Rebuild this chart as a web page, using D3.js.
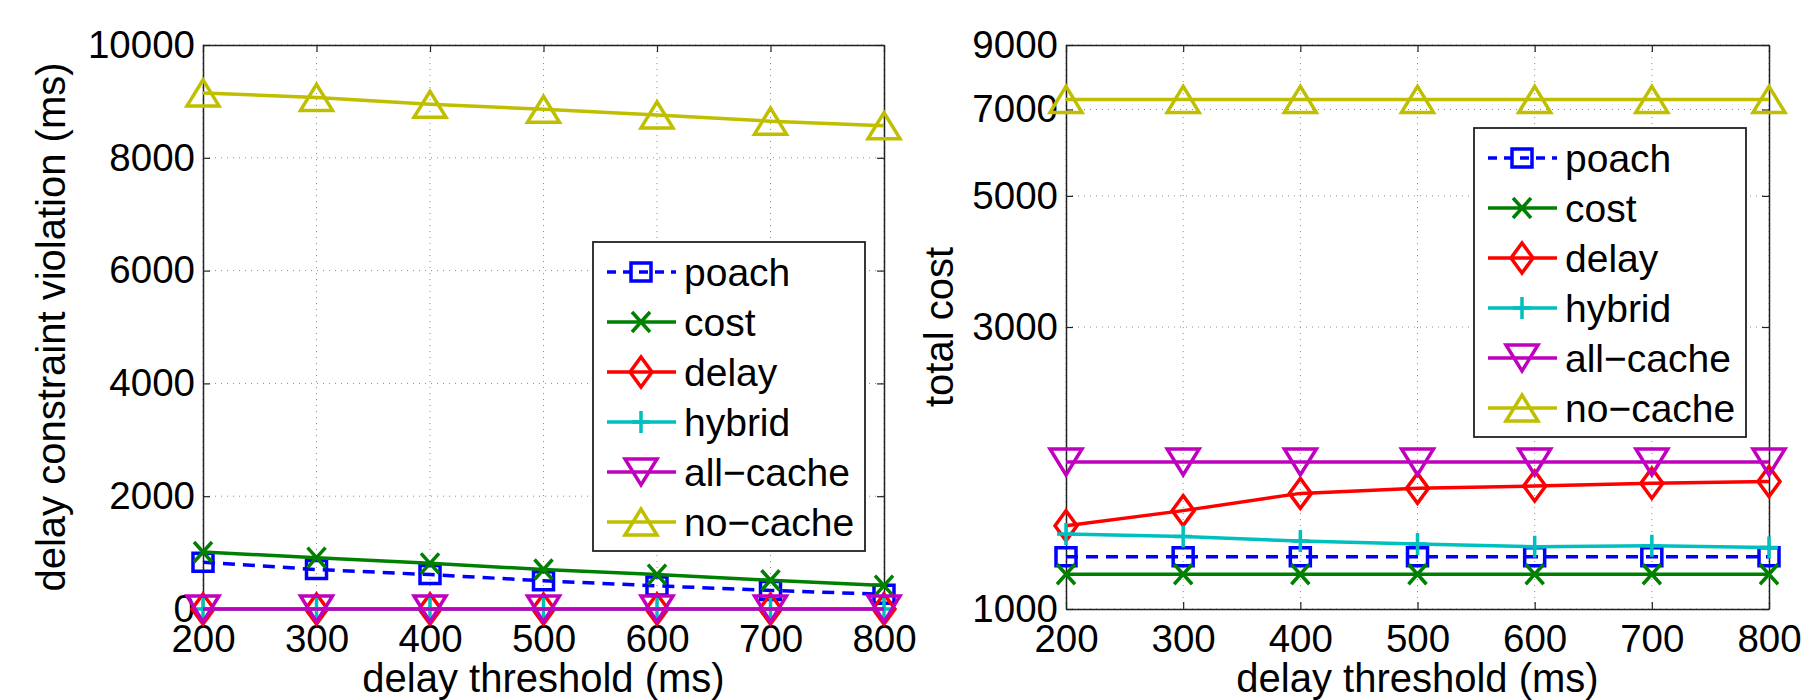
<!DOCTYPE html>
<html>
<head>
<meta charset="utf-8">
<script src="https://cdn.jsdelivr.net/npm/d3@7"></script>
<style>
  html, body { margin: 0; padding: 0; background: #fff; }
  svg { display: block; }
  text { font-family: "Liberation Sans", Arial, Helvetica, sans-serif; fill: #000; }
</style>
</head>
<body>
<svg id="chart" width="1809" height="700"></svg>
<script>
// ---------------- data ----------------
const thresholds = [200, 300, 400, 500, 600, 700, 800];
const seriesNames = ["poach", "cost", "delay", "hybrid", "all\u2212cache", "no\u2212cache"];

// left panel: delay constraint violation (ms)
const violationPoach    = [830, 700, 610, 500, 410, 330, 260];
const violationCost     = [1010, 910, 810, 700, 610, 510, 415];
const violationDelay    = [0, 0, 0, 0, 0, 0, 0];
const violationHybrid   = [0, 0, 0, 0, 0, 0, 0];
const violationAllCache = [0, 0, 0, 0, 0, 0, 0];
const violationNoCache  = [9150, 9070, 8950, 8860, 8760, 8650, 8570];

// right panel: total cost (log scale)
const costPoach    = [1226, 1226, 1226, 1226, 1226, 1226, 1226];
const costCost     = [1145, 1145, 1145, 1145, 1145, 1145, 1145];
const costDelay    = [1383, 1467, 1569, 1600, 1615, 1632, 1643];
const costHybrid   = [1339, 1326, 1303, 1288, 1275, 1279, 1271];
const costAllCache = [1773, 1773, 1773, 1773, 1773, 1773, 1773];
const costNoCache  = [7280, 7280, 7280, 7280, 7280, 7280, 7280];

const xTickLabels = [200, 300, 400, 500, 600, 700, 800];
const leftYTicks  = [0, 2000, 4000, 6000, 8000, 10000];
const rightYTicks = [1000, 3000, 5000, 7000, 9000];

// ---------------- styles ----------------
const styles = [
  { color: "#0000ff", dash: "12,8", marker: "square" },
  { color: "#008000", dash: null,   marker: "x" },
  { color: "#ff0000", dash: null,   marker: "diamond" },
  { color: "#00bfbf", dash: null,   marker: "plus" },
  { color: "#bf00bf", dash: null,   marker: "tridown" },
  { color: "#bfbf00", dash: null,   marker: "triup" }
];

function markerPath(type) {
  switch (type) {
    case "square":  return "M-10,-9H10V9H-10Z";
    case "x":       return "M-9,-10L9,10M-9,10L9,-10";
    case "diamond": return "M0,-15L11,0L0,15L-11,0Z";
    case "plus":    return "M-9,0H9M0,-11V11";
    case "tridown": return "M-16,-13H16L0,13Z";
    case "triup":   return "M-16,13H16L0,-13Z";
  }
}

const FONT = 38.5;
const LW = 3.5;
const svg = d3.select("#chart");
svg.append("rect").attr("width", 1809).attr("height", 700).attr("fill", "#fff");

function panel(opts) {
  const { x0, x1, y0, y1, yScaleType, yDomain, yTicks, data, yTitle, yTitleX, legend } = opts;
  const x = d3.scaleLinear().domain([200, 800]).range([x0, x1]);
  const y = (yScaleType === "log" ? d3.scaleLog() : d3.scaleLinear()).domain(yDomain).range([y1, y0]);
  const g = svg.append("g");

  // grid
  const grid = g.append("g").attr("stroke", "#8a8a8a").attr("stroke-width", 1).attr("stroke-dasharray", "1,5");
  xTickLabels.forEach(v => grid.append("line").attr("x1", x(v)).attr("x2", x(v)).attr("y1", y0).attr("y2", y1));
  yTicks.forEach(v => grid.append("line").attr("x1", x0).attr("x2", x1).attr("y1", y(v)).attr("y2", y(v)));

  // axes
  const axB = g.append("g").attr("transform", `translate(0,${y1})`)
    .call(d3.axisBottom(x).tickValues(xTickLabels).tickFormat(d3.format("d")).tickSize(-7).tickSizeOuter(0).tickPadding(16));
  const axL = g.append("g").attr("transform", `translate(${x0},0)`)
    .call(d3.axisLeft(y).tickValues(yTicks).tickFormat(d3.format("d")).tickSize(-7).tickSizeOuter(0).tickPadding(8));
  const axT = g.append("g").attr("transform", `translate(0,${y0})`)
    .call(d3.axisTop(x).tickValues(xTickLabels).tickFormat("").tickSize(-7).tickSizeOuter(0));
  const axR = g.append("g").attr("transform", `translate(${x1},0)`)
    .call(d3.axisRight(y).tickValues(yTicks).tickFormat("").tickSize(-7).tickSizeOuter(0));
  [axB, axL, axT, axR].forEach(a => {
    a.selectAll("path.domain").attr("stroke", "#222").attr("stroke-width", 1.5);
    a.selectAll(".tick line").attr("stroke", "#222").attr("stroke-width", 1.2);
    a.selectAll("text").attr("font-size", FONT).attr("font-family", "Liberation Sans, Arial, sans-serif").attr("fill", "#000");
  });

  // series
  data.forEach((vals, i) => {
    const st = styles[i];
    const line = d3.line().x((d, j) => x(thresholds[j])).y(d => y(d));
    g.append("path").attr("d", line(vals)).attr("fill", "none")
      .attr("stroke", st.color).attr("stroke-width", LW)
      .attr("stroke-dasharray", st.dash);
    g.append("g").selectAll("path").data(vals).join("path")
      .attr("transform", (d, j) => `translate(${x(thresholds[j])},${y(d)})`)
      .attr("d", markerPath(st.marker)).attr("fill", "none")
      .attr("stroke", st.color).attr("stroke-width", LW);
  });

  // titles
  g.append("text").attr("x", (x0 + x1) / 2).attr("y", 692).attr("text-anchor", "middle")
    .attr("font-size", 40).text("delay threshold (ms)");
  g.append("text").attr("transform", `translate(${yTitleX},${(y0 + y1) / 2}) rotate(-90)`)
    .attr("text-anchor", "middle").attr("font-size", 40).text(yTitle);

  // legend
  const lg = g.append("g").attr("transform", `translate(${legend.x},${legend.y})`);
  lg.append("rect").attr("width", 272).attr("height", 309).attr("fill", "#fff")
    .attr("stroke", "#222").attr("stroke-width", 1.8);
  seriesNames.forEach((name, i) => {
    const st = styles[i];
    const ry = 30 + 50 * i;
    lg.append("line").attr("x1", 14).attr("x2", 83).attr("y1", ry).attr("y2", ry)
      .attr("stroke", st.color).attr("stroke-width", LW).attr("stroke-dasharray", st.dash ? "9,7" : null);
    lg.append("path").attr("transform", `translate(48,${ry})`).attr("d", markerPath(st.marker))
      .attr("fill", "none").attr("stroke", st.color).attr("stroke-width", LW);
    lg.append("text").attr("x", 91).attr("y", ry).attr("dy", "0.36em").attr("font-size", 39).text(name);
  });
}

panel({
  x0: 203, x1: 884, y0: 45, y1: 609,
  yScaleType: "linear", yDomain: [0, 10000], yTicks: leftYTicks,
  data: [violationPoach, violationCost, violationDelay, violationHybrid, violationAllCache, violationNoCache],
  yTitle: "delay constraint violation (ms)", yTitleX: 65,
  legend: { x: 593, y: 242 }
});

panel({
  x0: 1066, x1: 1769, y0: 45, y1: 609,
  yScaleType: "log", yDomain: [1000, 9000], yTicks: rightYTicks,
  data: [costPoach, costCost, costDelay, costHybrid, costAllCache, costNoCache],
  yTitle: "total cost", yTitleX: 953,
  legend: { x: 1474, y: 128 }
});
</script>
</body>
</html>
